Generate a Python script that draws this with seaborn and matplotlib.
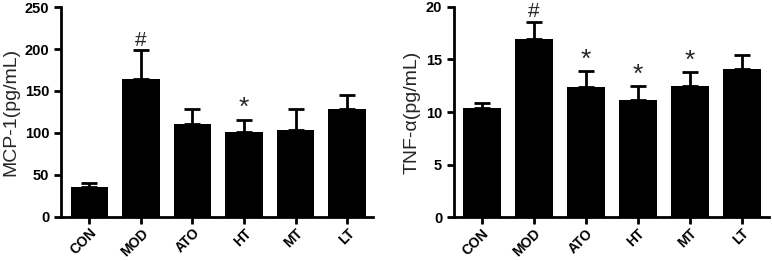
import matplotlib
matplotlib.use('Agg')
import matplotlib.pyplot as plt
import seaborn as sns
import numpy as np

groups = ['CON', 'MOD', 'ATO', 'HT', 'MT', 'LT']

mcp1_mean = [36, 164, 111, 101, 104, 128]
mcp1_err = [4, 35, 18, 15, 24, 17]
mcp1_marks = ['', '#', '', '*', '', '']

tnf_mean = [10.35, 16.9, 12.35, 11.15, 12.5, 14.1]
tnf_err = [0.5, 1.7, 1.55, 1.35, 1.35, 1.3]
tnf_marks = ['', '#', '*', '*', '*', '']

sns.set_style('ticks')
plt.rcParams['font.family'] = ['Liberation Sans', 'DejaVu Sans']

fig = plt.figure(figsize=(7.72, 2.61), dpi=100)
ax1 = fig.add_axes([0.079, 0.169, 0.404, 0.804])
ax2 = fig.add_axes([0.588, 0.167, 0.408, 0.807])


def panel(ax, means, errs, marks, ylabel, ymax, step):
    sns.barplot(x=groups, y=means, color='black', saturation=1, width=0.73,
                linewidth=0, ax=ax)
    x = np.arange(len(groups))
    ax.errorbar(x, means, yerr=[np.zeros(len(errs)), errs], fmt='none',
                ecolor='black', elinewidth=2, capsize=6, capthick=2)
    for i, m in enumerate(marks):
        if m:
            size = 15 if m == '#' else 19
            ax.annotate(m, (i, means[i] + errs[i]), xytext=(0, 3),
                        textcoords='offset points', ha='center', va='baseline',
                        fontsize=size)
    ax.set_ylim(0, ymax)
    ax.set_yticks(np.arange(0, ymax + step / 2, step))
    ax.set_xlim(-0.55, 5.5)
    ax.set_ylabel(ylabel, fontsize=14)
    ax.set_xlabel('')
    for s in ['left', 'bottom']:
        ax.spines[s].set_linewidth(2)
        ax.spines[s].set_color('black')
    sns.despine(ax=ax)
    ax.tick_params(width=2, length=5, direction='out', colors='black',
                   labelsize=10.5)
    ax.tick_params(axis='x', pad=1.5)
    ax.set_xticks(x)
    ax.set_xticklabels(groups, rotation=45, ha='right', rotation_mode='anchor',
                       fontsize=10, fontweight='bold')
    for t in ax.get_yticklabels():
        t.set_fontweight('bold')


panel(ax1, mcp1_mean, mcp1_err, mcp1_marks, 'MCP-1(pg/mL)', 250, 50)
panel(ax2, tnf_mean, tnf_err, tnf_marks, 'TNF-α(pg/mL)', 20, 5)
ax2.set_xlim(-0.53, 5.52)

fig.savefig('out.png', dpi=100)
